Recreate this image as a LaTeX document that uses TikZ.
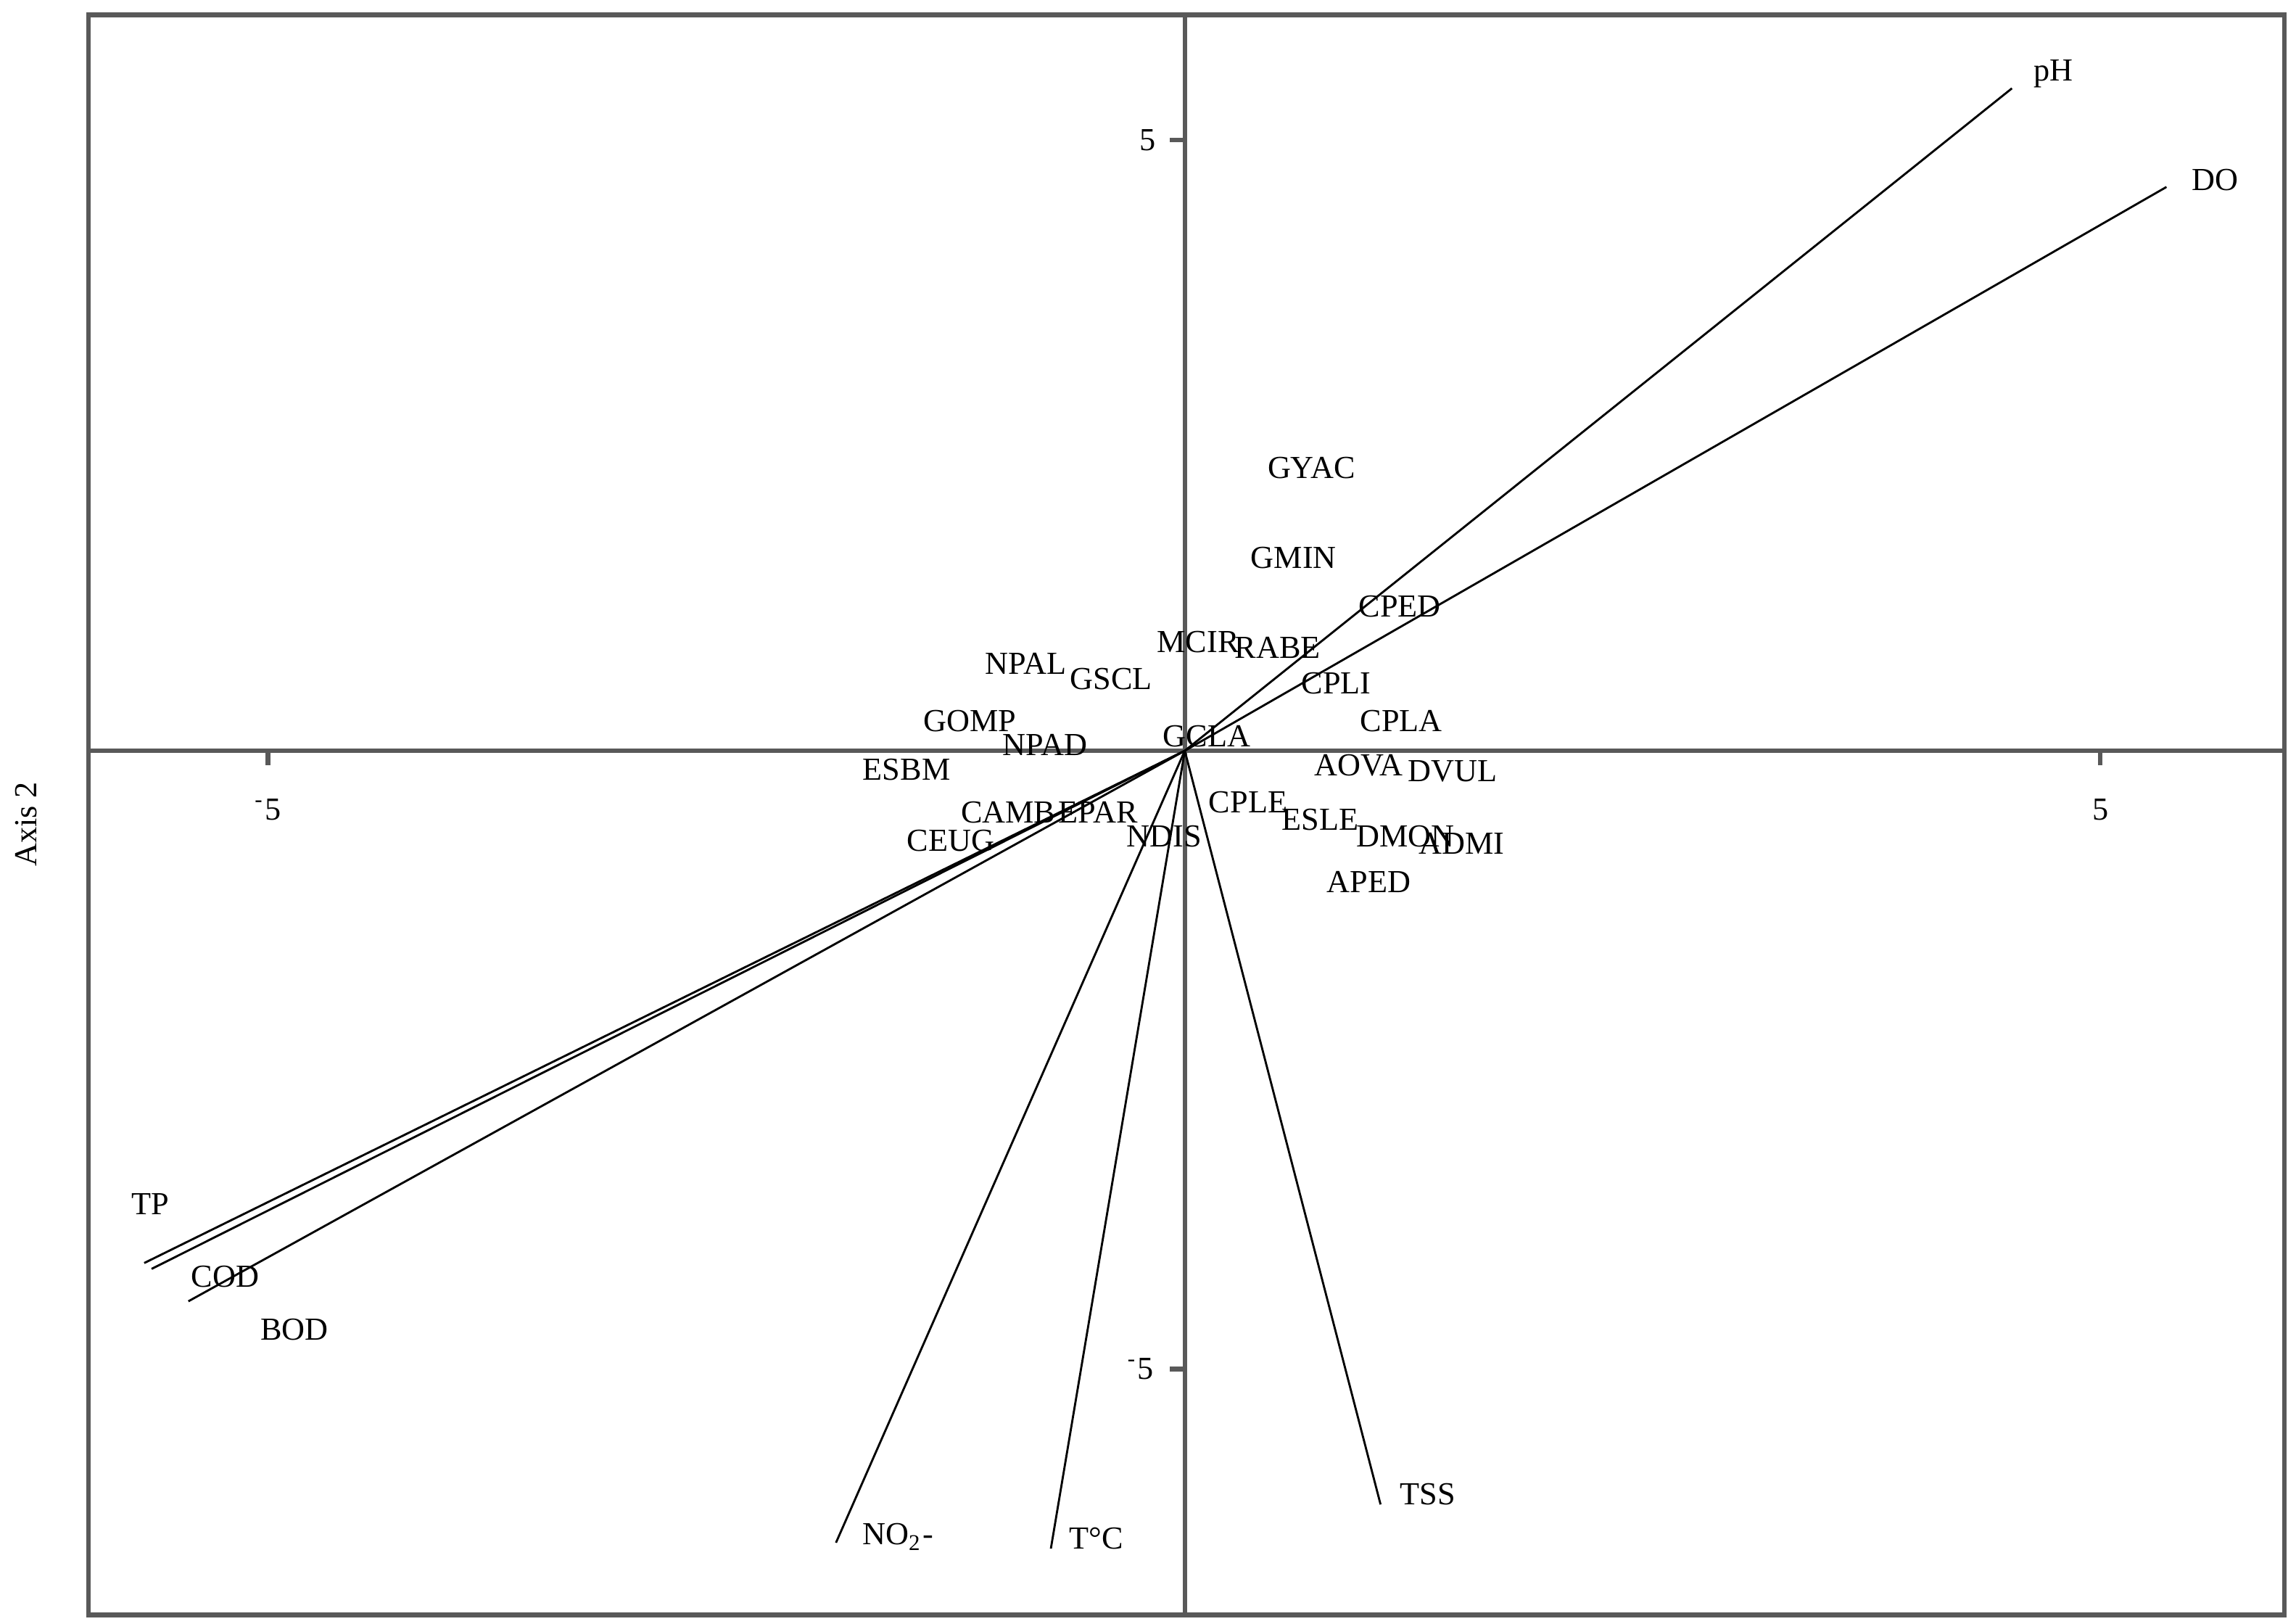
\documentclass[tikz,border=0pt]{standalone}
\usepackage{fontspec}
\setmainfont{Liberation Serif}
\begin{document}
\begin{tikzpicture}[x=0.01cm,y=-0.01cm,
  lab/.style={font=\fontsize{6.2}{7}\selectfont,inner sep=0pt},
  vec/.style={line width=0.4pt,black},
  ax/.style={line width=0.9pt,black!65}]
\useasboundingbox (0,0) rectangle (1560,1103);
\draw[ax] (60,10) rectangle (1552,1097);
\draw[ax] (805,10) -- (805,1097);
\draw[ax] (60,510) -- (1552,510);
\draw[ax] (182,510) -- (182,520);
\draw[ax] (1427,510) -- (1427,520);
\draw[ax] (795,95) -- (805,95);
\draw[ax] (795,930) -- (805,930);
\node[lab] at (182,550) {\textsuperscript{-}5};
\node[lab] at (1427,550) {5};
\node[lab] at (780,95) {5};
\node[lab] at (775,930) {\textsuperscript{-}5};
\node[lab,rotate=90] at (18,560) {Axis 2};
\coordinate (o) at (805,510);
\foreach \n/\x/\y in {pH/1367/60, DO/1472/127, TP/98/858, COD/103/862, BOD/128/884, NO/568/1048, T/714/1052, TSS/938/1022}
  \coordinate (\n) at (\x,\y);
\foreach \n in {pH,DO,TP,COD,BOD,NO,T,TSS} \draw[vec] (o) -- (\n);
\node[lab] (lpH) at (1395,50) {pH};
\node[lab] (lDO) at (1505,122) {DO};
\node[lab] (lTP) at (102,818) {TP};
\node[lab] (lCOD) at (153,867) {COD};
\node[lab] (lBOD) at (200,903) {BOD};
\node[lab] (lNO) at (610,1044) {NO\textsubscript{2}-};
\node[lab] (lT) at (745,1045) {T°C};
\node[lab] (lTSS) at (970,1015) {TSS};
\foreach \t/\x/\y in {GYAC/891/318, GMIN/879/379, CPED/951/412, MCIR/814/436, RABE/868/440, NPAL/697/451, GSCL/755/461, CPLI/908/464, CPLA/952/490, GOMP/659/490, GCLA/820/500, NPAD/710/506, AOVA/923/520, DVUL/987/524, ESBM/616/523, CPLE/848/545, CAMB/685/552, EPAR/746/552, ESLE/897/557, NDIS/791/568, DMON/955/568, ADMI/993/573, CEUG/646/571, APED/930/599}
  \node[lab] (s\t) at (\x,\y) {\t};
\end{tikzpicture}
\end{document}
